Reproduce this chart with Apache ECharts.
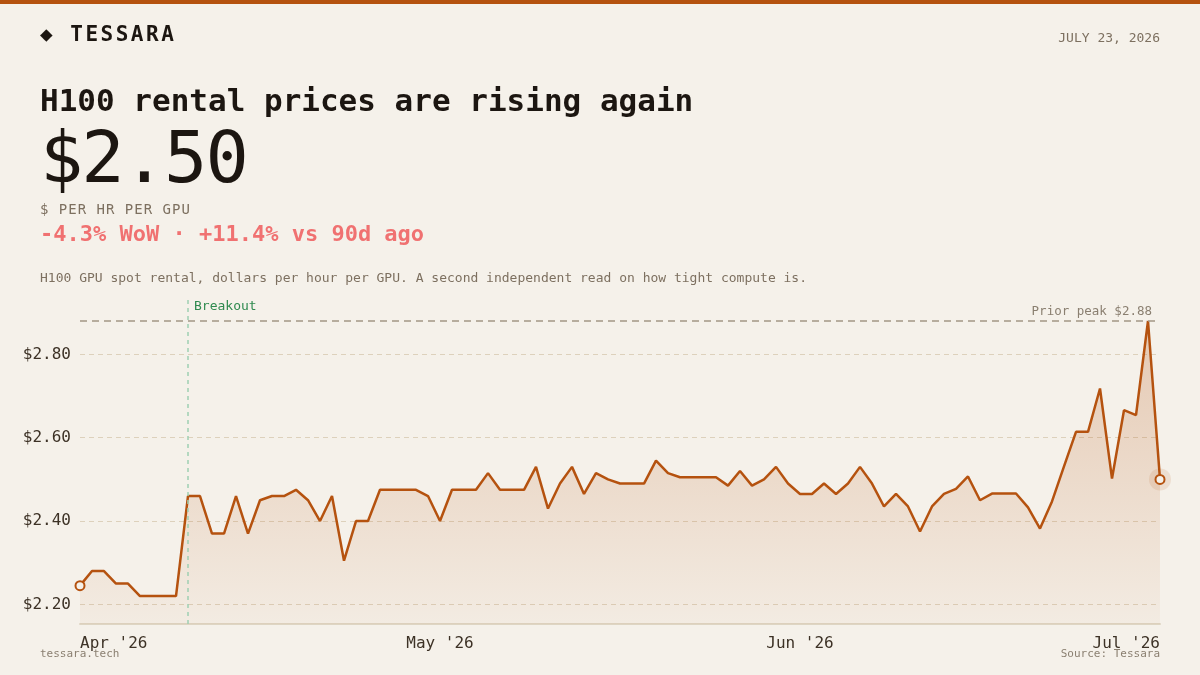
<!DOCTYPE html>
<html>
<head>
<meta charset="utf-8">
<title>H100 rental prices</title>
<script src="https://cdn.jsdelivr.net/npm/echarts@6/dist/echarts.min.js"></script>
<style>
html, body { margin: 0; padding: 0; background: #f5f1ea; }
#wrap { position: relative; width: 1200px; height: 675px; overflow: hidden; font-family: 'DejaVu Sans Mono', monospace; }
#chart { position: absolute; left: 0; top: 0; width: 1200px; height: 675px; }
.t { position: absolute; white-space: nowrap; line-height: 1; }
</style>
</head>
<body>
<div id="wrap">
  <div id="chart"></div>
  <div style="position:absolute;left:0;top:0;width:1200px;height:4px;background:#b5520f"></div>
  <div class="t" style="left:40px;top:24px;font-size:21px;font-weight:bold;letter-spacing:2.5px;color:#1c1611">◆ TESSARA</div>
  <div class="t" style="right:40px;top:31px;font-size:13px;color:#7d7060">JULY 23, 2026</div>
  <div class="t" style="left:40px;top:85px;font-size:31px;font-weight:bold;color:#1c1611">H100 rental prices are rising again</div>
  <div class="t" style="left:40px;top:121px;font-size:72px;letter-spacing:-2px;color:#1c1611">$2.50</div>
  <div class="t" style="left:40px;top:202px;font-size:14px;letter-spacing:1px;color:#7d7060">$ PER HR PER GPU</div>
  <div class="t" style="left:40px;top:223px;font-size:22px;font-weight:bold;color:#f07171">-4.3% WoW · +11.4% vs 90d ago</div>
  <div class="t" style="left:40px;top:271px;font-size:13px;color:#7d7060">H100 GPU spot rental, dollars per hour per GPU. A second independent read on how tight compute is.</div>
</div>
<script>
// daily spot price, $/hr/GPU
var prices = [
    2.245, 2.28, 2.28, 2.25, 2.25, 2.22, 2.22, 2.22, 2.22, 2.46,
    2.46, 2.37, 2.37, 2.46, 2.37, 2.45, 2.46, 2.46, 2.475, 2.45,
    2.40, 2.46, 2.305, 2.40, 2.40, 2.475, 2.475, 2.475, 2.475, 2.46,
    2.40, 2.475, 2.475, 2.475, 2.515, 2.475, 2.475, 2.475, 2.53, 2.43,
    2.49, 2.53, 2.465, 2.515, 2.50, 2.49, 2.49, 2.49, 2.545, 2.515,
    2.505, 2.505, 2.505, 2.505, 2.485, 2.52, 2.485, 2.50, 2.53, 2.49,
    2.465, 2.465, 2.49, 2.465, 2.49, 2.53, 2.49, 2.435, 2.465, 2.435,
    2.375, 2.435, 2.465, 2.477, 2.507, 2.45, 2.466, 2.466, 2.466, 2.433,
    2.382, 2.447, 2.531, 2.614, 2.614, 2.718, 2.502, 2.666, 2.654, 2.88,
    2.50
];
var tickIdx = [0, 30, 60, 90];
var tickLabels = ["Apr '26", "May '26", "Jun '26", "Jul '26"];
var priorPeak = 2.88;
var breakoutIdx = 9;
var yMin = 2.153, yMax = 2.94;

var days = [];
var start = new Date(2026, 3, 1);
for (var i = 0; i < prices.length; i++) {
    var d = new Date(start.getTime() + i * 86400000);
    days.push(d.getFullYear() + '-' + (d.getMonth() + 1) + '-' + d.getDate());
}

var FONT = 'DejaVu Sans Mono';
var ORANGE = '#b5520f';
var lastIdx = prices.length - 1;

var myChart = echarts.init(document.getElementById('chart'), null, { renderer: 'canvas' });

function footer(extra) {
    var g = [
        {
            type: 'text', left: 40, top: 649,
            style: { text: 'tessara.tech', font: '11px "DejaVu Sans Mono"', fill: '#8a7f70' }
        },
        {
            type: 'text', right: 40, top: 649,
            style: { text: 'Source: Tessara', font: '11px "DejaVu Sans Mono"', fill: '#8a7f70', align: 'right' }
        }
    ];
    return extra ? g.concat(extra) : g;
}

var option = {
    backgroundColor: '#f5f1ea',
    animation: false,
    grid: { left: 80, right: 40, top: 296, bottom: 51 },
    xAxis: {
        type: 'category', data: days, boundaryGap: false,
        axisLine: { lineStyle: { color: '#ded5c3', width: 2 } },
        axisTick: { show: false },
        splitLine: { show: false },
        axisLabel: {
            interval: function (idx) { return tickIdx.indexOf(idx) >= 0; },
            formatter: function (v, idx) { return tickLabels[tickIdx.indexOf(idx)] || ''; },
            alignMinLabel: 'left', alignMaxLabel: 'right',
            fontFamily: FONT, fontSize: 16, color: '#3d3226', margin: 12
        }
    },
    yAxis: {
        type: 'value', min: yMin, max: yMax, splitNumber: 4,
        axisLine: { show: false }, axisTick: { show: false },
        axisLabel: {
            showMinLabel: false, showMaxLabel: false,
            formatter: function (v) {
                var r = Math.round(v * 100);
                return r % 20 === 0 ? '$' + v.toFixed(2) : '';
            },
            fontFamily: FONT, fontSize: 16, color: '#3d3226', margin: 9
        },
        splitLine: {
            showMinLine: false, showMaxLine: false,
            lineStyle: { color: '#ddd1bc', width: 1, type: [5, 4] }
        }
    },
    series: [
        {
            type: 'scatter', z: 1, silent: true,
            data: [[days[lastIdx], prices[lastIdx]]],
            symbolSize: 22,
            itemStyle: { color: 'rgba(181,82,15,0.15)' }
        },
        {
            type: 'line', z: 3, data: prices,
            showSymbol: true,
            symbol: function (val, params) {
                return (params.dataIndex === 0 || params.dataIndex === lastIdx) ? 'circle' : 'none';
            },
            symbolSize: 9,
            itemStyle: { color: '#f5f1ea', borderColor: ORANGE, borderWidth: 2 },
            lineStyle: { color: ORANGE, width: 2.5 },
            areaStyle: {
                color: new echarts.graphic.LinearGradient(0, 0, 0, 1, [
                    { offset: 0, color: 'rgba(181,82,15,0.36)' },
                    { offset: 1, color: 'rgba(181,82,15,0.05)' }
                ])
            },
            markLine: {
                silent: true, symbol: 'none',
                data: [
                    {
                        yAxis: priorPeak,
                        lineStyle: { color: '#a39785', width: 1.5, type: [7, 5] },
                        label: {
                            show: true, position: 'insideEndTop', distance: [8, 3],
                            formatter: 'Prior peak $' + priorPeak.toFixed(2),
                            fontFamily: FONT, fontSize: 12.5, color: '#8a7f70'
                        }
                    },
                    {
                        xAxis: days[breakoutIdx],
                        lineStyle: { color: '#9fcfb3', width: 1.5, type: [4, 4] },
                        label: { show: false }
                    }
                ]
            }
        }
    ],
    graphic: footer()
};

myChart.setOption(option);

var bx = myChart.convertToPixel({ xAxisIndex: 0 }, days[breakoutIdx]);
myChart.setOption({
    graphic: footer([
        {
            type: 'text', x: bx + 6, y: 300,
            style: { text: 'Breakout', font: '13px "DejaVu Sans Mono"', fill: '#2f8a4f' }
        }
    ])
});
</script>
</body>
</html>
